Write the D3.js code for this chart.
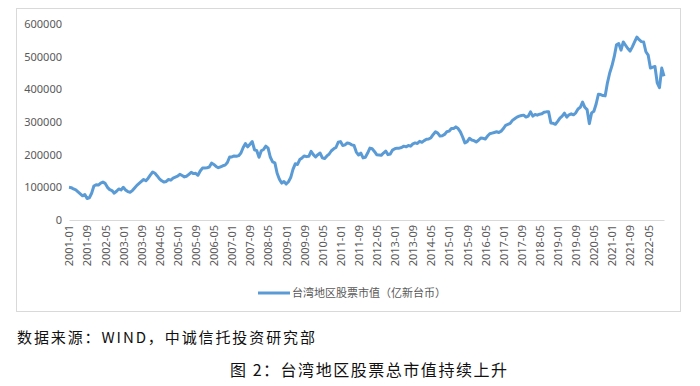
<!DOCTYPE html>
<html>
<head>
<meta charset="utf-8">
<script src="https://cdn.jsdelivr.net/npm/d3@7"></script>
<style>
  body { margin: 0; background: #fff; }
  svg { display: block; }
</style>
</head>
<body>
<script>
const w = 700;
const h = 386;

// monthly market cap, 2001-01 .. 2022-12 (亿新台币)
const years = d3.range(2001, 2023);
const marketCap = [
  // 2001
  100000, 99000, 95000, 92000, 86000, 80000, 74000, 78000, 66000, 68000, 82000, 104000,
  // 2002
  108000, 107000, 113000, 116000, 112000, 100000, 93000, 90000, 82000, 88000, 95000, 92000,
  // 2003
  100000, 92000, 87000, 85000, 90000, 98000, 106000, 112000, 118000, 124000, 120000, 128000,
  // 2004
  138000, 147000, 143000, 135000, 126000, 120000, 116000, 118000, 124000, 122000, 128000, 131000,
  // 2005
  134000, 140000, 136000, 132000, 134000, 140000, 146000, 142000, 143000, 137000, 150000, 159000,
  // 2006
  159000, 160000, 162000, 174000, 170000, 164000, 160000, 163000, 166000, 168000, 176000, 193000,
  // 2007
  193000, 196000, 195000, 197000, 205000, 222000, 234000, 224000, 232000, 240000, 215000, 212000,
  // 2008
  192000, 212000, 216000, 226000, 220000, 192000, 178000, 175000, 143000, 125000, 113000, 118000,
  // 2009
  110000, 117000, 130000, 155000, 172000, 170000, 185000, 190000, 196000, 194000, 195000, 210000,
  // 2010
  200000, 193000, 200000, 205000, 190000, 188000, 196000, 202000, 212000, 218000, 222000, 238000,
  // 2011
  240000, 228000, 230000, 236000, 234000, 230000, 228000, 208000, 199000, 205000, 190000, 192000,
  // 2012
  205000, 220000, 218000, 210000, 200000, 199000, 198000, 205000, 211000, 200000, 202000, 214000,
  // 2013
  218000, 220000, 220000, 222000, 226000, 224000, 228000, 226000, 233000, 236000, 234000, 241000,
  // 2014
  238000, 243000, 247000, 248000, 252000, 262000, 270000, 266000, 257000, 258000, 262000, 270000,
  // 2015
  272000, 280000, 280000, 285000, 280000, 270000, 254000, 236000, 240000, 250000, 245000, 243000,
  // 2016
  239000, 244000, 251000, 250000, 248000, 257000, 264000, 266000, 268000, 270000, 268000, 272000,
  // 2017
  280000, 290000, 293000, 296000, 305000, 310000, 315000, 318000, 320000, 321000, 315000, 318000,
  // 2018
  331000, 318000, 323000, 321000, 324000, 325000, 330000, 331000, 331000, 297000, 296000, 293000,
  // 2019
  302000, 312000, 318000, 327000, 315000, 322000, 325000, 322000, 328000, 340000, 345000, 361000,
  // 2020
  345000, 338000, 295000, 328000, 333000, 355000, 385000, 384000, 381000, 380000, 420000, 450000,
  // 2021
  472000, 500000, 536000, 540000, 520000, 545000, 535000, 525000, 517000, 530000, 545000, 560000,
  // 2022
  552000, 546000, 545000, 515000, 505000, 465000, 468000, 470000, 420000, 405000, 465000, 440000
];
const months = [];
years.forEach(y => {
  for (let m = 1; m <= 12; m++) months.push(y + "-" + String(m).padStart(2, "0"));
});
const yTicks = [0, 100000, 200000, 300000, 400000, 500000, 600000];

const seriesName = "台湾地区股票市值（亿新台币）";
const sourceText = "数据来源：WIND，中诚信托投资研究部";
const titleText = "图 2：台湾地区股票总市值持续上升";

const svg = d3
  .select("body")
  .append("svg")
  .attr("width", w)
  .attr("height", h);

// chart frame
svg
  .append("rect")
  .attr("x", 16.5)
  .attr("y", 8.5)
  .attr("width", 664)
  .attr("height", 303)
  .attr("fill", "#fff")
  .attr("stroke", "#d9d9d9");

const xScale = d3
  .scaleLinear()
  .domain([0, months.length - 1])
  .range([69, 664]);
const yScale = d3
  .scaleLinear()
  .domain([0, 600000])
  .range([220, 24]);

const font = "'Noto Sans', 'Noto Sans CJK SC', sans-serif";

// y axis
const yAxis = svg
  .append("g")
  .attr("transform", "translate(69,0)")
  .call(d3.axisLeft(yScale).tickValues(yTicks).tickFormat(d3.format("d")).tickSize(0).tickPadding(7));
yAxis.select(".domain").remove();
yAxis
  .selectAll("text")
  .style("font-family", font)
  .style("font-size", "11px")
  .attr("fill", "#595959");

// x axis
const xAxis = svg
  .append("g")
  .attr("transform", "translate(0,220)")
  .call(
    d3
      .axisBottom(xScale)
      .tickValues(d3.range(0, months.length, 8))
      .tickFormat(i => months[i])
      .tickSize(0)
  );
xAxis.select(".domain").attr("stroke", "#d9d9d9");
xAxis
  .selectAll("text")
  .attr("transform", "rotate(-90)")
  .attr("x", -5)
  .attr("y", 0)
  .attr("dy", "0.35em")
  .style("text-anchor", "end")
  .style("font-family", font)
  .style("font-size", "11px")
  .attr("fill", "#595959");

// line
const line = d3
  .line()
  .x((d, i) => xScale(i))
  .y(d => yScale(d));

svg
  .append("path")
  .datum(marketCap)
  .attr("d", line)
  .attr("fill", "none")
  .attr("stroke", "#5b9bd5")
  .attr("stroke-width", 3)
  .attr("stroke-linejoin", "round");

// legend
svg
  .append("line")
  .attr("x1", 258)
  .attr("x2", 290)
  .attr("y1", 293)
  .attr("y2", 293)
  .attr("stroke", "#5b9bd5")
  .attr("stroke-width", 3);
svg
  .append("text")
  .attr("x", 292)
  .attr("y", 297)
  .style("font-family", font)
  .style("font-size", "11px")
  .attr("fill", "#595959")
  .text(seriesName);

// source and caption
svg
  .append("text")
  .attr("x", 17)
  .attr("y", 343)
  .attr("textLength", 298)
  .attr("lengthAdjust", "spacing")
  .style("font-family", "'Noto Sans CJK SC', sans-serif")
  .style("font-size", "15px")
  .attr("fill", "#111")
  .text(sourceText);

svg
  .append("text")
  .attr("x", 230)
  .attr("y", 376)
  .attr("textLength", 277)
  .attr("lengthAdjust", "spacing")
  .style("font-family", "'Noto Sans CJK SC', sans-serif")
  .style("font-size", "16px")
  .attr("fill", "#111")
  .text(titleText);
</script>
</body>
</html>
